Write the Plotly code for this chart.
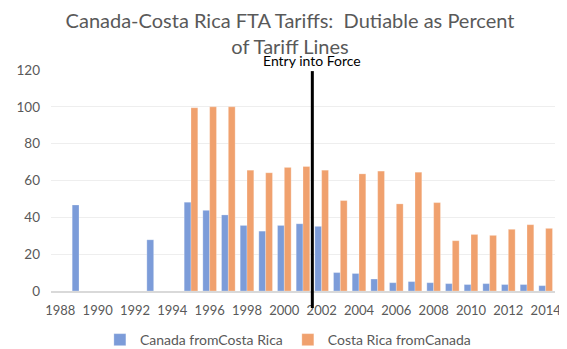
import plotly.graph_objects as go

years = list(range(1988, 2015))
canada_from_cr = [0, 46.7, 0, 0, 0, 27.8, 0, 48.2, 43.8, 41.3, 35.6, 32.5, 35.6, 36.5,
                  35.1, 10.0, 9.5, 6.5, 4.5, 5.1, 4.5, 4.0, 3.5, 4.0, 3.5, 3.5, 2.9]
cr_from_canada = [0, 0, 0, 0, 0, 0, 0, 99.5, 100, 100, 65.6, 64.2, 67.1, 67.6,
                  65.6, 49.1, 63.6, 65.1, 47.3, 64.5, 48.0, 27.3, 30.7, 30.2, 33.5, 36.0, 34.0]
tick_years = list(range(1988, 2015, 2))
entry_year = 2001.5

FONT = "Lato"
GRAY = "#595959"

fig = go.Figure()
fig.add_trace(go.Bar(x=years, y=canada_from_cr, name="Canada fromCosta Rica",
                     marker=dict(color="#7C9CD9", line=dict(color="rgba(255,255,255,0.5)", width=0.5))))
fig.add_trace(go.Bar(x=years, y=cr_from_canada, name="Costa Rica fromCanada",
                     marker=dict(color="#F0A16E", line=dict(color="rgba(255,255,255,0.5)", width=0.5))))

fig.add_shape(type="line", xref="x", yref="paper", x0=entry_year, x1=entry_year,
              y0=-0.077, y1=0.995, line=dict(color="black", width=3))
fig.add_annotation(x=entry_year, xref="x", yref="paper", y=1.045, text="Entry into Force",
                   showarrow=False, font=dict(family=FONT, size=14, color="black"), yanchor="middle")

fig.update_layout(
    width=559, height=341,
    margin=dict(l=43, r=12, t=62, b=58, autoexpand=False),
    paper_bgcolor="white", plot_bgcolor="white",
    font=dict(family=FONT, color=GRAY, size=13),
    title=dict(text="Canada-Costa Rica FTA Tariffs:  Dutiable as Percent<br>of Tariff Lines",
               x=0.5045, xref="container", xanchor="center", y=0.941, yref="container", yanchor="middle",
               font=dict(family=FONT, size=20, color=GRAY)),
    barmode="group", bargap=0.27, bargroupgap=0,
    showlegend=True,
    legend=dict(orientation="h", x=0.47, xanchor="center",
                y=-0.222, yanchor="middle", font=dict(family=FONT, size=14, color=GRAY),
                itemwidth=30, tracegroupgap=0),
    xaxis=dict(range=[1987.5, 2014.5], tickvals=tick_years, ticktext=[str(y) for y in tick_years],
               showgrid=False, zeroline=False, showline=True, linecolor="#d9d9d9", linewidth=2,
               ticks="", tickangle=0, ticklabelstandoff=6,
               tickfont=dict(family=FONT, size=13, color=GRAY)),
    yaxis=dict(range=[0, 120], dtick=20, showgrid=True, gridcolor="#eeeeee", gridwidth=1,
               zeroline=False, showline=False, ticks="", ticklabelstandoff=10,
               tickfont=dict(family=FONT, size=13.5, color=GRAY)),
)

fig.write_html("out.html")
